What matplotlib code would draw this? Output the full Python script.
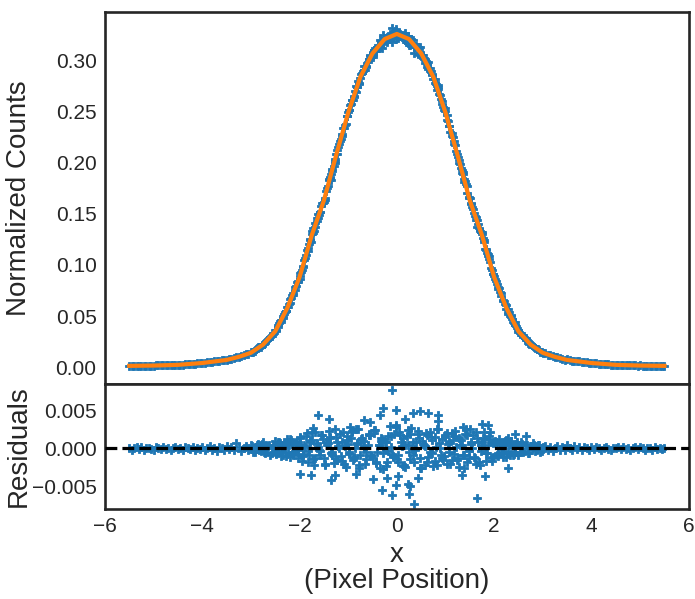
import numpy as np
import matplotlib
matplotlib.use("Agg")
import matplotlib.pyplot as plt

plt.rcParams["font.family"] = ["Liberation Sans", "DejaVu Sans"]

# Best-fit profile
curve_x = [-5.5, -5.0, -4.5, -4.0, -3.5, -3.25, -3.0, -2.75, -2.5, -2.25, -2.0,
           -1.75, -1.5, -1.25, -1.0, -0.75, -0.5, -0.25, 0.0,
           0.25, 0.5, 0.75, 1.0, 1.25, 1.5, 1.75, 2.0, 2.25, 2.5, 2.75,
           3.0, 3.25, 3.5, 4.0, 4.5, 5.0, 5.5]
curve_y = [0.0012, 0.0015, 0.0022, 0.0040, 0.0070, 0.0100, 0.0140, 0.0220, 0.0350, 0.0580, 0.0880,
           0.1290, 0.1630, 0.2070, 0.2490, 0.2840, 0.3070, 0.3210, 0.3260,
           0.3210, 0.3070, 0.2840, 0.2490, 0.2070, 0.1630, 0.1290, 0.0880, 0.0580, 0.0350, 0.0220,
           0.0140, 0.0100, 0.0070, 0.0040, 0.0022, 0.0015, 0.0012]

# Residuals (units of 1e-3) on the regular sample grid x = -5.5 ... 5.5, step 0.05
grid_x = np.linspace(-5.5, 5.5, 221)
grid_res = [
    0.1, -0.2, 0.05, 0.15, -0.1, 0.2, -0.15, 0.0, 0.1, -0.05,
    -0.2, 0.15, 0.05, -0.1, 0.2, -0.05, 0.1, -0.15, 0.0, 0.2,
    -0.1, 0.05, -0.2, 0.15, 0.1, -0.05, 0.2, -0.15, 0.05, -0.1,
    0.2, -0.25, 0.1, 0.3, -0.15, 0.05, -0.3, 0.25, 0.1, -0.2,
    0.3, -0.1, 0.15, -0.25, 0.7, 0.2, -0.3, 0.1, 0.35, -0.2,
    0.4, -0.5, 0.2, 0.6, -0.3, 0.9, -0.6, 0.3, -0.8, 0.5,
    1.0, -0.4, 0.7, -0.9, 0.2, 1.2, -1.1, 0.6, -0.3, 0.9,
    1.3, -1.6, 0.4, 2.0, -0.8, 1.1, -2.2, 0.7, -0.2, 1.8,
    -1.3, 0.9, 2.3, -0.6, -1.9, 1.5, 0.3, -1.0, 2.1, -2.4,
    0.6, 1.4, -1.5, 0.0, 2.6, -0.9, 1.0, -2.0, 0.5, 1.7,
    -1.2, 2.4, -0.4, -2.6, 1.2, 0.8, -1.7, 2.9, -0.7, 1.9,
    -1.4, 2.2, 0.3, -2.1, 1.6, -0.5, 2.7, -1.8, 0.9, 1.3,
    -2.5, 0.5, 2.0, -1.1, 1.5, -2.3, 0.2, 2.5, -0.8, -1.5,
    1.8, 0.6, -2.0, 1.1, 2.3, -1.3, 0.4, -0.9, 1.9, -1.7,
    2.6, 0.1, -1.2, 1.4, -2.2, 0.8, 2.1, -0.6, 1.2, -1.6,
    0.9,
    -0.8, 1.2, -0.5, 0.9, -1.1, 0.4, 1.0, -0.7, 0.6, -0.9,
    0.8, -0.4, 0.5, -0.6, 0.3, 0.7, -0.3, 0.4, -0.5, 0.2,
    0.3, -0.2, 0.25, -0.3, 0.1, 0.35, -0.15, 0.2, -0.25, 0.5,
    0.1, -0.2, 0.3, -0.1, 0.15, -0.25, 0.2, 0.05, -0.15, 0.25,
    -0.1, 0.15, 0.05, -0.2, 0.1, 0.2, -0.05, -0.15, 0.1, 0.0,
    0.15, -0.1, 0.2, -0.05, 0.1, -0.2, 0.05, 0.15, -0.1, 0.2,
    0.0, -0.15, 0.1, 0.05, -0.2, 0.15, -0.05, 0.1, -0.1, 0.05,
]

# Extra samples in the core, x = -2.975 ... 2.975, step 0.05
core_x = np.linspace(-2.975, 2.975, 120)
core_res = [
    0.3, -0.4, 0.5, -0.2, 0.6, -0.5, 0.2, 0.4, -0.6, 0.1,
    -0.7, 0.9, -0.3, 0.6, -1.0, 0.4, 1.1, -0.5, 0.8, -1.2,
    0.5, -1.0, 1.6, -0.3, 0.8, -1.4, 2.2, 0.2, -0.9, 1.2,
    -2.0, 0.7, 1.5, -0.4, -1.2, 0.9, 1.9, -1.6, 0.3, 1.1,
    -0.7, 2.3, -1.3, 0.6, -2.2, 1.4, 0.0, -0.5, 1.8, -1.0,
    2.0, -1.8, 0.4, 1.3, -2.7, 0.9, -0.3, 1.6, -1.1, 3.0,
    -0.9, 1.7, -2.3, 0.5, 2.4, -1.4, 0.8, -0.2, 1.9, -2.6,
    1.0, 0.3, -1.7, 2.2, -0.6, 1.5, -2.1, 0.7, 1.2, -1.0,
    2.0, -0.4, -1.5, 1.6, 0.2, -2.4, 1.1, -0.8, 2.5, -1.3,
    0.6, 1.8, -2.0, 0.9, -0.3, 1.4, -1.6, 0.5, 2.2, -1.1,
    1.0, -0.6, 0.7, -1.1, 0.4, 1.3, -0.8, 0.5, -0.4, 0.9,
    -0.5, 0.6, -0.3, 0.4, -0.6, 0.3, 0.5, -0.2, 0.4, -0.3,
]

# More core samples, x = -2.4875 ... 2.4875
inner_x = np.linspace(-2.4875, 2.4875, 100)
inner_res = [
    -0.6, 0.9, -1.0, 0.3, 0.7, -0.4, 1.2, -0.9, 0.5, -0.2,
    1.5, -0.7, 0.2, -1.8, 1.0, 2.1, -1.2, 0.6, -0.3, 1.7,
    -2.2, 0.4, 1.3, -0.9, 2.6, -1.5, 0.1, 0.9, -2.0, 1.6,
    -0.4, 2.2, -1.1, 0.7, -2.5, 1.2, 0.3, -1.4, 1.9, -0.8,
    2.4, -1.9, 0.5, 1.0, -0.6, -2.3, 1.6, 0.2, -1.0, 2.8,
    -1.7, 0.8, 1.4, -2.4, 0.4, 1.9, -0.9, -0.1, 2.3, -1.3,
    0.6, -2.1, 1.7, -0.5, 1.1, -1.6, 2.5, 0.0, -1.2, 1.5,
    -2.0, 0.9, 2.0, -0.7, -1.5, 1.3, 0.4, -2.6, 1.8, -0.3,
    0.8, -1.1, 2.1, -1.8, 0.5, 1.2, -0.6, 1.6, -1.3, 0.7,
    0.8, -1.0, 0.4, -0.6, 1.1, -0.3, 0.6, -0.8, 0.2, 0.5,
]

# Isolated large residuals (units of 1e-3)
out_x = [-0.09, -0.28, -0.01, -0.35, -1.63, -1.40, -0.67, -0.55, -0.97, -0.83, -1.72,
         -1.99, -1.77, -1.36, -1.27, -0.83, -0.49, -0.31, -0.09, -0.21, -0.01,
         0.47, 0.64, 0.34, 0.84, 0.16, 0.85, 1.36, 1.75, 1.88, 2.42, 2.66,
         0.03, 0.23, 0.27, 0.25, 0.36, 0.44, 1.81, 2.29, 1.64, 1.33]
out_res = [7.6, 5.3, 5.0, 4.4, 4.3, 3.9, 3.7, 3.4, 2.8, 2.6, 2.7,
           -3.3, -3.4, -4.1, -3.4, -3.3, -4.0, -5.4, -6.1, -3.8, -4.7,
           4.9, 4.6, 4.6, 4.3, 3.8, 3.6, 2.8, 3.2, 3.1, 1.9, 1.6,
           -3.6, -4.6, -4.9, -5.9, -7.2, -3.8, -3.6, -2.6, -6.5, -3.4]

x_pts = np.concatenate([grid_x, core_x, inner_x, out_x])
res = np.concatenate([grid_res, core_res, inner_res, out_res]) * 1e-3
y_pts = np.interp(x_pts, curve_x, curve_y) + res

blue = "#1f77b4"
orange = "#ff7f0e"
edge = "#262626"

fig = plt.figure(figsize=(6.95, 5.99), dpi=100)
ax_top = fig.add_axes([0.151, 0.359, 0.840, 0.621])
ax_res = fig.add_axes([0.151, 0.150, 0.840, 0.209], sharex=ax_top)

ax_top.plot(x_pts, y_pts, "P", color=blue, ms=6, mew=0.6, zorder=2)
ax_top.plot(curve_x, curve_y, color=orange, lw=3, zorder=3)
ax_top.set_ylim(-0.0165, 0.3475)
ax_top.set_yticks([0.0, 0.05, 0.10, 0.15, 0.20, 0.25, 0.30])
ax_top.set_yticklabels(["0.00", "0.05", "0.10", "0.15", "0.20", "0.25", "0.30"])
ax_top.set_ylabel("Normalized Counts", fontsize=20)
ax_top.tick_params(labelbottom=False)

ax_res.plot(x_pts, res, "P", color=blue, ms=6, mew=0.6, zorder=2)
ax_res.axhline(0, color="k", ls="--", lw=2.3, zorder=3)
ax_res.set_ylim(-0.0079, 0.0084)
ax_res.set_yticks([-0.005, 0.0, 0.005])
ax_res.set_yticklabels(["\u22120.005", "0.000", "0.005"])
ax_res.set_xlim(-6, 6)
ax_res.set_xticks([-6, -4, -2, 0, 2, 4, 6])
ax_res.set_ylabel("Residuals", fontsize=20)
ax_res.set_xlabel("x\n(Pixel Position)", fontsize=20, linespacing=1.0)

for ax in (ax_top, ax_res):
    for sp in ax.spines.values():
        sp.set_color(edge)
        sp.set_linewidth(1.9)
    ax.tick_params(length=0, pad=6, labelsize=15, labelcolor=edge)
    ax.yaxis.label.set_color(edge)
    ax.xaxis.label.set_color(edge)
    ax.yaxis.set_label_coords(-0.125, 0.5)

fig.savefig("out.png", dpi=100, facecolor="white")
